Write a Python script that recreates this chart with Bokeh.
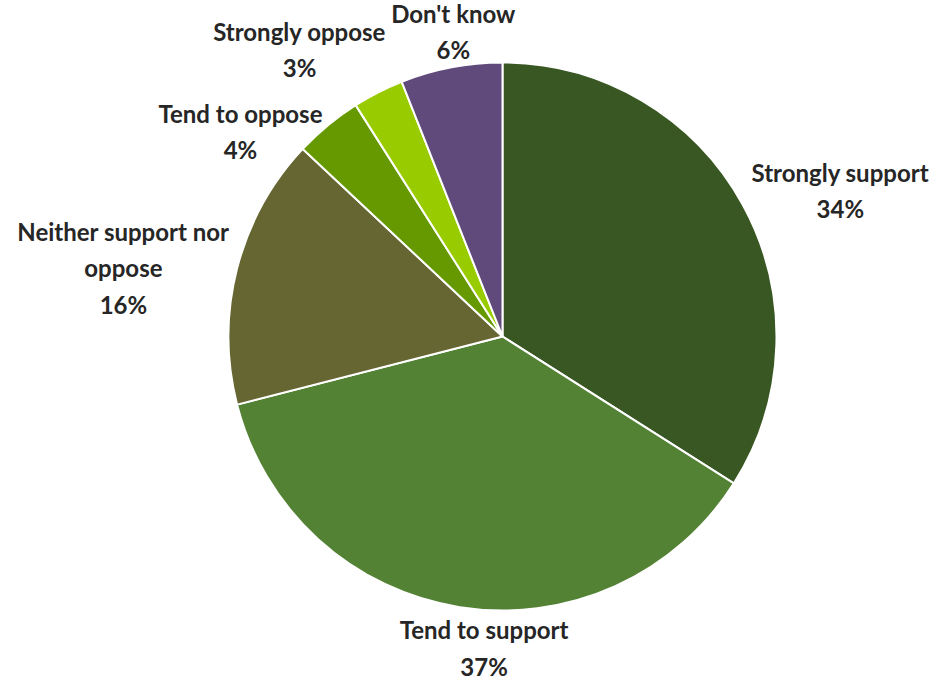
import math
from bokeh.plotting import figure
from bokeh.models import ColumnDataSource, Range1d
from bokeh.core.properties import value
from bokeh.embed import file_html
from bokeh.resources import INLINE

categories = ["Strongly support", "Tend to support", "Neither support nor\noppose",
              "Tend to oppose", "Strongly oppose", "Don't know"]
percents = [34, 37, 16, 4, 3, 6]
colors = ["#385723", "#548235", "#666633", "#669900", "#99CC00", "#604A7B"]
# label nudges in screen pixels (x right, y down), style only
label_dx = [89, 26, -104, -81, -74, 4]
label_dy = [-9, 31, 2, 14, -34, -26]

W, H = 935, 682
cx, cy = 502, H - 336
R = 274

total = sum(percents)
starts, ends, lx, ly, texts = [], [], [], [], []
cum = 0.0
for i, v in enumerate(percents):
    a0 = math.pi / 2 - 2 * math.pi * cum / total
    cum += v
    a1 = math.pi / 2 - 2 * math.pi * cum / total
    starts.append(a0)
    ends.append(a1)
    mid = (a0 + a1) / 2
    lx.append(cx + (R + 10) * math.cos(mid) + label_dx[i])
    ly.append(cy + (R + 10) * math.sin(mid) - label_dy[i])
    texts.append(f"{categories[i]}\n{v}%")

src = ColumnDataSource(dict(start=starts, end=ends, color=colors))
lsrc = ColumnDataSource(dict(x=lx, y=ly, text=texts))

p = figure(width=W, height=H, frame_width=W, frame_height=H, output_backend="svg",
           toolbar_location=None, x_range=Range1d(0, W), y_range=Range1d(0, H),
           min_border=0)
p.axis.visible = False
p.grid.visible = False
p.outline_line_color = None
p.background_fill_color = "white"

p.wedge(x=cx, y=cy, radius=R, start_angle="start", end_angle="end", direction="clock",
        fill_color="color", line_color="white", line_width=2, source=src)

p.text(x="x", y="y", text="text", source=lsrc, text_align="center", text_baseline="middle",
       text_font=value("Lato"), text_font_style="bold", text_font_size="24px",
       text_color="#262626", text_line_height=1.25)

open("out.html", "w").write(file_html(p, INLINE))
